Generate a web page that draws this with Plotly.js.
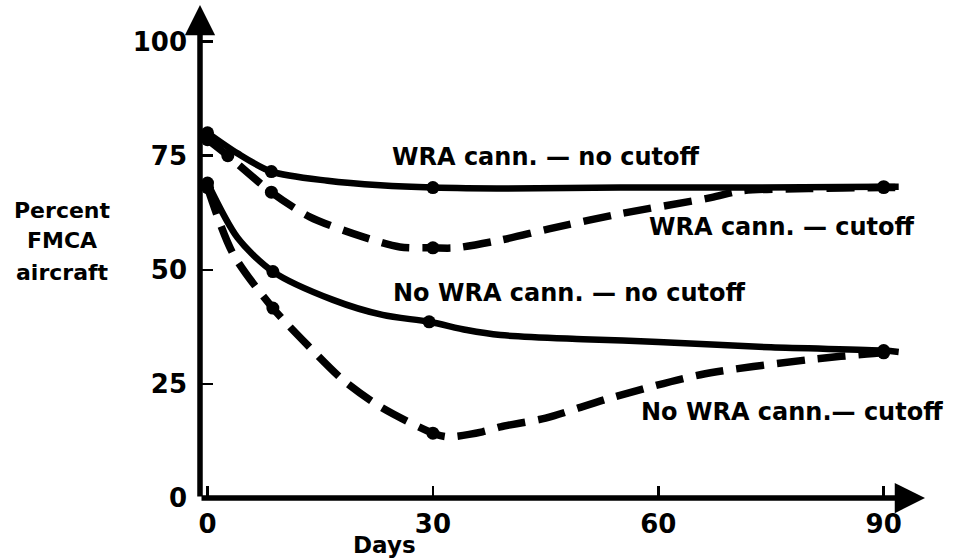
<!DOCTYPE html>
<html>
<head>
<meta charset="utf-8">
<script src="https://cdn.plot.ly/plotly-3.0.1.min.js"></script>
<style>html,body{margin:0;padding:0;background:#fff;}#chart{width:957px;height:559px;}</style>
</head>
<body>
<div id="chart"></div>
<script>
// ---- Data ----
const xTickVals = [0, 30, 60, 90];
const xTickText = ["0", "30", "60", "90"];
const yTickVals = [0, 25, 50, 75, 100];
const yTickText = ["0", "25", "50", "75", "100"];

// WRA cannibalization - no cutoff (solid)
const wraNoCutDays = [0, 4, 8.5, 16, 23, 30, 40, 55, 70, 90, 92];
const wraNoCutVals = [80, 75.5, 71.5, 69.5, 68.5, 68, 67.8, 68, 68, 68.2, 68.2];
const wraNoCutMarkDays = [0, 8.5, 30, 90];
const wraNoCutMarkVals = [80, 71.5, 68, 68.2];

// WRA cannibalization - cutoff (dashed)
const wraCutDays = [0, 2.7, 8.5, 13.6, 20.7, 25.6, 30, 33, 39, 45.6, 55, 67, 71, 80, 90, 92];
const wraCutVals = [78.5, 75, 67, 61.6, 57.2, 55, 54.8, 54.8, 56.5, 59, 62.3, 65.8, 67.3, 67.8, 68, 68];
const wraCutMarkDays = [0, 2.7, 8.5, 30, 90];
const wraCutMarkVals = [78.5, 75, 67, 54.8, 68];

// No WRA cannibalization - no cutoff (solid)
const noWraNoCutDays = [0, 4, 8.7, 16.7, 23.3, 29.5, 34.5, 39, 50, 60, 75, 90, 92];
const noWraNoCutVals = [69, 57, 49.6, 43.4, 40.1, 38.6, 36.8, 35.7, 34.8, 34.2, 33, 32.3, 32];
const noWraNoCutMarkDays = [0, 8.7, 29.5, 90];
const noWraNoCutMarkVals = [69, 49.6, 38.6, 32.3];

// No WRA cannibalization - cutoff (dashed)
const noWraCutDays = [0, 3.4, 8.7, 13.6, 18, 23, 30, 32, 36.6, 39, 45, 53.6, 65.6, 80, 90, 92];
const noWraCutVals = [68, 53.5, 41.6, 33, 25.9, 20, 14.2, 13.4, 14.5, 15.6, 17.5, 21.9, 27, 30.3, 31.8, 31.8];
const noWraCutMarkDays = [0, 8.7, 30, 90];
const noWraCutMarkVals = [68, 41.6, 14.2, 31.8];

const labelTexts = ["WRA cann. — no cutoff", "WRA cann. — cutoff", "No WRA cann. — no cutoff", "No WRA cann.— cutoff"];
const yTitleLines = ["Percent", "FMCA", "aircraft"];
const xTitle = "Days";

// ---- Layout helpers ----
const W = 957, H = 559;
const M = {l: 200, r: 32, t: 5, b: 61};
const PW = W - M.l - M.r, PH = H - M.t - M.b;
const px = x => (x - M.l) / PW;           // page pixel -> paper x
const py = y => (H - M.b - y) / PH;       // page pixel -> paper y
const FONT = "DejaVu Sans, Arial, sans-serif";

function lineTrace(xs, ys, dashed) {
  return {x: xs, y: ys, type: "scatter", mode: "lines", hoverinfo: "skip",
    line: {color: "#000", width: dashed ? 7.5 : 6.5, shape: "spline", smoothing: 0.8,
           dash: dashed ? "28px,13px" : "solid"}};
}
function markTrace(xs, ys) {
  return {x: xs, y: ys, type: "scatter", mode: "markers", hoverinfo: "skip",
    marker: {color: "#000", size: 13}};
}

const data = [
  lineTrace(wraNoCutDays, wraNoCutVals, false), markTrace(wraNoCutMarkDays, wraNoCutMarkVals),
  lineTrace(wraCutDays, wraCutVals, true), markTrace(wraCutMarkDays, wraCutMarkVals),
  lineTrace(noWraNoCutDays, noWraNoCutVals, false), markTrace(noWraNoCutMarkDays, noWraNoCutMarkVals),
  lineTrace(noWraCutDays, noWraCutVals, true), markTrace(noWraCutMarkDays, noWraCutMarkVals)
];

const XR = [-1, 95.5], YR = [0, 108];

function label(text, cx, cy, size) {
  return {text: text, xref: "paper", yref: "paper", x: px(cx), y: py(cy),
    xanchor: "center", yanchor: "middle", showarrow: false,
    font: {family: FONT, size: size, color: "#000", weight: "bold"}};
}

const annotations = [
  // axes with arrowheads
  {xref: "x", yref: "y", axref: "x", ayref: "y", x: XR[1], y: 0, ax: XR[0], ay: 0,
   showarrow: true, arrowhead: 2, arrowsize: 1.1, arrowwidth: 5.5, arrowcolor: "#000", text: "", standoff: 0, startstandoff: 0},
  {xref: "x", yref: "y", axref: "x", ayref: "y", x: XR[0], y: YR[1], ax: XR[0], ay: 0,
   showarrow: true, arrowhead: 2, arrowsize: 1.1, arrowwidth: 5.5, arrowcolor: "#000", text: "", standoff: 0, startstandoff: 0},
  label(labelTexts[0], 546, 157, 24),
  label(labelTexts[1], 782, 227, 24),
  label(labelTexts[2], 569, 293, 24),
  label(labelTexts[3], 792, 412, 24),
  label(yTitleLines[0], 62, 210, 22),
  label(yTitleLines[1], 62, 240, 22),
  label(yTitleLines[2], 62, 272, 22),
  label(xTitle, 384, 545, 23)
];

const layout = {
  width: W, height: H,
  margin: M,
  paper_bgcolor: "#fff", plot_bgcolor: "#fff",
  showlegend: false,
  xaxis: {range: XR, tickvals: xTickVals, ticktext: xTickText, ticks: "inside", ticklen: 12,
          tickwidth: 2.5, tickcolor: "#000", showgrid: false, zeroline: false, showline: false,
          ticklabelstandoff: 8, tickfont: {family: FONT, size: 26, color: "#000", weight: "bold"}},
  yaxis: {range: YR, tickvals: yTickVals, ticktext: yTickText, ticks: "inside", ticklen: 13,
          tickwidth: 2.5, tickcolor: "#000", showgrid: false, zeroline: false, showline: false,
          ticklabelstandoff: 12, tickfont: {family: FONT, size: 26, color: "#000", weight: "bold"}},
  annotations: annotations
};

Plotly.newPlot("chart", data, layout, {staticPlot: true, displayModeBar: false});
</script>
</body>
</html>
